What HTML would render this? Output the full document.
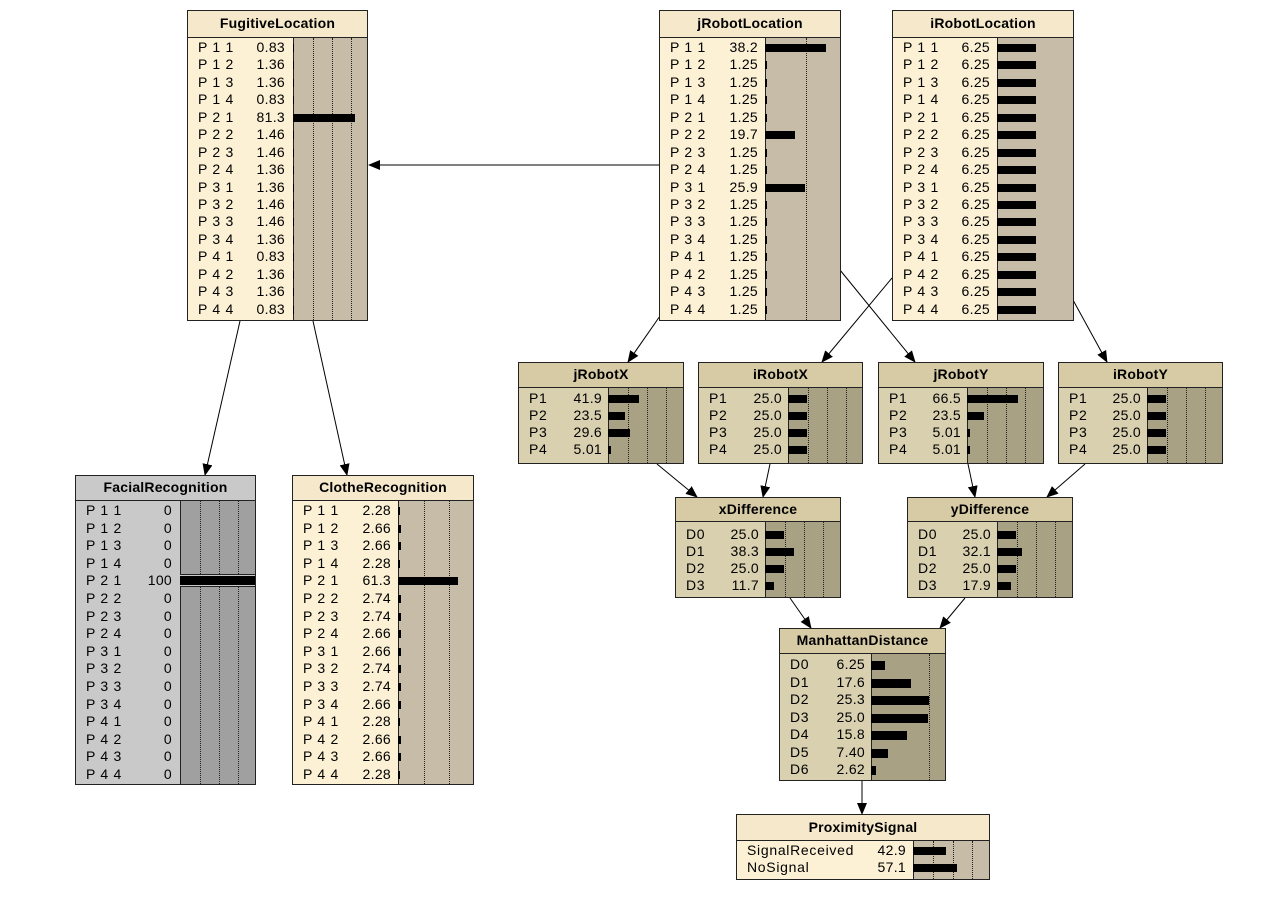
<!DOCTYPE html>
<html><head><meta charset="utf-8"><style>
body{margin:0;width:1283px;height:897px;background:#fff;position:relative;overflow:hidden;font-family:"Liberation Sans",Arial,sans-serif;font-size:14px;letter-spacing:0.7px;color:#000}
.n{position:absolute;border:1px solid #222;box-sizing:border-box;overflow:hidden}
.h{position:absolute;left:0;right:0;top:0;border-bottom:1px solid #222;text-align:center;font-weight:bold;font-size:14px;letter-spacing:0.2px;box-sizing:border-box}
.ba{position:absolute;bottom:0;right:0;border-left:1px solid #222}
.d{position:absolute;top:0;bottom:0;width:0;border-left:1px dotted #222}
.rs{position:absolute;left:0;right:0}
.r{position:relative}
.l{position:absolute;left:10px}
.v{position:absolute;text-align:right;letter-spacing:0.3px}
.b{position:absolute;background:#000;height:8px}
.c .h{background:#f6e9cb}.c{background:#fcf1d5}.c .ba{background:#c6bca7}
.m .h{background:#d7cba5}.m{background:#d9d0b0}.m .ba{background:#a9a183}
.g .h{background:#c9c9c9}.g{background:#c9c9c9}.g .ba{background:#a0a0a0}
</style></head><body>
<svg width="1283" height="897" style="position:absolute;left:0;top:0">
<defs><marker id="a" markerWidth="12" markerHeight="10" refX="11" refY="5" orient="auto" markerUnits="userSpaceOnUse"><path d="M0,0 L12,5 L0,10 z" fill="#000"/></marker></defs>
<g stroke="#000" stroke-width="1" marker-end="url(#a)">
<line x1="659" y1="165" x2="369" y2="165"/>
<line x1="240" y1="321" x2="205" y2="475"/>
<line x1="313" y1="321" x2="347" y2="475"/>
<line x1="660" y1="316" x2="628" y2="362"/>
<line x1="892" y1="278" x2="822" y2="362"/>
<line x1="840" y1="270" x2="915" y2="362"/>
<line x1="1073" y1="300" x2="1107" y2="362"/>
<line x1="657" y1="464" x2="697" y2="497"/>
<line x1="770" y1="464" x2="763" y2="497"/>
<line x1="968" y1="464" x2="975" y2="497"/>
<line x1="1085" y1="464" x2="1047" y2="497"/>
<line x1="790" y1="598" x2="811" y2="628"/>
<line x1="965" y1="598" x2="940" y2="628"/>
<line x1="862" y1="781" x2="862" y2="814"/>
</g></svg>

<!-- FugitiveLocation -->
<div class="n c" style="left:187px;top:10px;width:181px;height:311px">
<div class="h" style="height:27px;line-height:25px">FugitiveLocation</div>
<div class="ba" style="left:105px;top:27px"><i class="d" style="left:19px"></i><i class="d" style="left:38px"></i><i class="d" style="left:57px"></i></div>
<div class="rs" style="top:28px">
<div class="r" style="height:17.45px;line-height:17.45px"><span class="l">P 1 1</span><span class="v" style="right:82px">0.83</span><i class="b" style="left:105px;top:5px;width:1px"></i></div>
<div class="r" style="height:17.45px;line-height:17.45px"><span class="l">P 1 2</span><span class="v" style="right:82px">1.36</span><i class="b" style="left:105px;top:5px;width:1px"></i></div>
<div class="r" style="height:17.45px;line-height:17.45px"><span class="l">P 1 3</span><span class="v" style="right:82px">1.36</span><i class="b" style="left:105px;top:5px;width:1px"></i></div>
<div class="r" style="height:17.45px;line-height:17.45px"><span class="l">P 1 4</span><span class="v" style="right:82px">0.83</span><i class="b" style="left:105px;top:5px;width:1px"></i></div>
<div class="r" style="height:17.45px;line-height:17.45px"><span class="l">P 2 1</span><span class="v" style="right:82px">81.3</span><i class="b" style="left:105px;top:5px;width:62px"></i></div>
<div class="r" style="height:17.45px;line-height:17.45px"><span class="l">P 2 2</span><span class="v" style="right:82px">1.46</span><i class="b" style="left:105px;top:5px;width:1px"></i></div>
<div class="r" style="height:17.45px;line-height:17.45px"><span class="l">P 2 3</span><span class="v" style="right:82px">1.46</span><i class="b" style="left:105px;top:5px;width:1px"></i></div>
<div class="r" style="height:17.45px;line-height:17.45px"><span class="l">P 2 4</span><span class="v" style="right:82px">1.36</span><i class="b" style="left:105px;top:5px;width:1px"></i></div>
<div class="r" style="height:17.45px;line-height:17.45px"><span class="l">P 3 1</span><span class="v" style="right:82px">1.36</span><i class="b" style="left:105px;top:5px;width:1px"></i></div>
<div class="r" style="height:17.45px;line-height:17.45px"><span class="l">P 3 2</span><span class="v" style="right:82px">1.46</span><i class="b" style="left:105px;top:5px;width:1px"></i></div>
<div class="r" style="height:17.45px;line-height:17.45px"><span class="l">P 3 3</span><span class="v" style="right:82px">1.46</span><i class="b" style="left:105px;top:5px;width:1px"></i></div>
<div class="r" style="height:17.45px;line-height:17.45px"><span class="l">P 3 4</span><span class="v" style="right:82px">1.36</span><i class="b" style="left:105px;top:5px;width:1px"></i></div>
<div class="r" style="height:17.45px;line-height:17.45px"><span class="l">P 4 1</span><span class="v" style="right:82px">0.83</span><i class="b" style="left:105px;top:5px;width:1px"></i></div>
<div class="r" style="height:17.45px;line-height:17.45px"><span class="l">P 4 2</span><span class="v" style="right:82px">1.36</span><i class="b" style="left:105px;top:5px;width:1px"></i></div>
<div class="r" style="height:17.45px;line-height:17.45px"><span class="l">P 4 3</span><span class="v" style="right:82px">1.36</span><i class="b" style="left:105px;top:5px;width:1px"></i></div>
<div class="r" style="height:17.45px;line-height:17.45px"><span class="l">P 4 4</span><span class="v" style="right:82px">0.83</span><i class="b" style="left:105px;top:5px;width:1px"></i></div>
</div></div>

<!-- jRobotLocation -->
<div class="n c" style="left:659px;top:10px;width:182px;height:311px">
<div class="h" style="height:27px;line-height:25px">jRobotLocation</div>
<div class="ba" style="left:105px;top:27px"><i class="d" style="left:40px"></i></div>
<div class="rs" style="top:28px">
<div class="r" style="height:17.45px;line-height:17.45px"><span class="l">P 1 1</span><span class="v" style="right:82px">38.2</span><i class="b" style="left:105px;top:5px;width:61px"></i></div>
<div class="r" style="height:17.45px;line-height:17.45px"><span class="l">P 1 2</span><span class="v" style="right:82px">1.25</span><i class="b" style="left:105px;top:5px;width:2px"></i></div>
<div class="r" style="height:17.45px;line-height:17.45px"><span class="l">P 1 3</span><span class="v" style="right:82px">1.25</span><i class="b" style="left:105px;top:5px;width:2px"></i></div>
<div class="r" style="height:17.45px;line-height:17.45px"><span class="l">P 1 4</span><span class="v" style="right:82px">1.25</span><i class="b" style="left:105px;top:5px;width:2px"></i></div>
<div class="r" style="height:17.45px;line-height:17.45px"><span class="l">P 2 1</span><span class="v" style="right:82px">1.25</span><i class="b" style="left:105px;top:5px;width:2px"></i></div>
<div class="r" style="height:17.45px;line-height:17.45px"><span class="l">P 2 2</span><span class="v" style="right:82px">19.7</span><i class="b" style="left:105px;top:5px;width:30px"></i></div>
<div class="r" style="height:17.45px;line-height:17.45px"><span class="l">P 2 3</span><span class="v" style="right:82px">1.25</span><i class="b" style="left:105px;top:5px;width:2px"></i></div>
<div class="r" style="height:17.45px;line-height:17.45px"><span class="l">P 2 4</span><span class="v" style="right:82px">1.25</span><i class="b" style="left:105px;top:5px;width:2px"></i></div>
<div class="r" style="height:17.45px;line-height:17.45px"><span class="l">P 3 1</span><span class="v" style="right:82px">25.9</span><i class="b" style="left:105px;top:5px;width:40px"></i></div>
<div class="r" style="height:17.45px;line-height:17.45px"><span class="l">P 3 2</span><span class="v" style="right:82px">1.25</span><i class="b" style="left:105px;top:5px;width:2px"></i></div>
<div class="r" style="height:17.45px;line-height:17.45px"><span class="l">P 3 3</span><span class="v" style="right:82px">1.25</span><i class="b" style="left:105px;top:5px;width:2px"></i></div>
<div class="r" style="height:17.45px;line-height:17.45px"><span class="l">P 3 4</span><span class="v" style="right:82px">1.25</span><i class="b" style="left:105px;top:5px;width:2px"></i></div>
<div class="r" style="height:17.45px;line-height:17.45px"><span class="l">P 4 1</span><span class="v" style="right:82px">1.25</span><i class="b" style="left:105px;top:5px;width:2px"></i></div>
<div class="r" style="height:17.45px;line-height:17.45px"><span class="l">P 4 2</span><span class="v" style="right:82px">1.25</span><i class="b" style="left:105px;top:5px;width:2px"></i></div>
<div class="r" style="height:17.45px;line-height:17.45px"><span class="l">P 4 3</span><span class="v" style="right:82px">1.25</span><i class="b" style="left:105px;top:5px;width:2px"></i></div>
<div class="r" style="height:17.45px;line-height:17.45px"><span class="l">P 4 4</span><span class="v" style="right:82px">1.25</span><i class="b" style="left:105px;top:5px;width:2px"></i></div>
</div></div>

<!-- iRobotLocation -->
<div class="n c" style="left:892px;top:10px;width:182px;height:311px">
<div class="h" style="height:27px;line-height:25px">iRobotLocation</div>
<div class="ba" style="left:104px;top:27px"></div>
<div class="rs" style="top:28px">
<div class="r" style="height:17.45px;line-height:17.45px"><span class="l">P 1 1</span><span class="v" style="right:83px">6.25</span><i class="b" style="left:104px;top:5px;width:39px"></i></div>
<div class="r" style="height:17.45px;line-height:17.45px"><span class="l">P 1 2</span><span class="v" style="right:83px">6.25</span><i class="b" style="left:104px;top:5px;width:39px"></i></div>
<div class="r" style="height:17.45px;line-height:17.45px"><span class="l">P 1 3</span><span class="v" style="right:83px">6.25</span><i class="b" style="left:104px;top:5px;width:39px"></i></div>
<div class="r" style="height:17.45px;line-height:17.45px"><span class="l">P 1 4</span><span class="v" style="right:83px">6.25</span><i class="b" style="left:104px;top:5px;width:39px"></i></div>
<div class="r" style="height:17.45px;line-height:17.45px"><span class="l">P 2 1</span><span class="v" style="right:83px">6.25</span><i class="b" style="left:104px;top:5px;width:39px"></i></div>
<div class="r" style="height:17.45px;line-height:17.45px"><span class="l">P 2 2</span><span class="v" style="right:83px">6.25</span><i class="b" style="left:104px;top:5px;width:39px"></i></div>
<div class="r" style="height:17.45px;line-height:17.45px"><span class="l">P 2 3</span><span class="v" style="right:83px">6.25</span><i class="b" style="left:104px;top:5px;width:39px"></i></div>
<div class="r" style="height:17.45px;line-height:17.45px"><span class="l">P 2 4</span><span class="v" style="right:83px">6.25</span><i class="b" style="left:104px;top:5px;width:39px"></i></div>
<div class="r" style="height:17.45px;line-height:17.45px"><span class="l">P 3 1</span><span class="v" style="right:83px">6.25</span><i class="b" style="left:104px;top:5px;width:39px"></i></div>
<div class="r" style="height:17.45px;line-height:17.45px"><span class="l">P 3 2</span><span class="v" style="right:83px">6.25</span><i class="b" style="left:104px;top:5px;width:39px"></i></div>
<div class="r" style="height:17.45px;line-height:17.45px"><span class="l">P 3 3</span><span class="v" style="right:83px">6.25</span><i class="b" style="left:104px;top:5px;width:39px"></i></div>
<div class="r" style="height:17.45px;line-height:17.45px"><span class="l">P 3 4</span><span class="v" style="right:83px">6.25</span><i class="b" style="left:104px;top:5px;width:39px"></i></div>
<div class="r" style="height:17.45px;line-height:17.45px"><span class="l">P 4 1</span><span class="v" style="right:83px">6.25</span><i class="b" style="left:104px;top:5px;width:39px"></i></div>
<div class="r" style="height:17.45px;line-height:17.45px"><span class="l">P 4 2</span><span class="v" style="right:83px">6.25</span><i class="b" style="left:104px;top:5px;width:39px"></i></div>
<div class="r" style="height:17.45px;line-height:17.45px"><span class="l">P 4 3</span><span class="v" style="right:83px">6.25</span><i class="b" style="left:104px;top:5px;width:39px"></i></div>
<div class="r" style="height:17.45px;line-height:17.45px"><span class="l">P 4 4</span><span class="v" style="right:83px">6.25</span><i class="b" style="left:104px;top:5px;width:39px"></i></div>
</div></div>

<!-- jRobotX -->
<div class="n m" style="left:518px;top:362px;width:166px;height:102px">
<div class="h" style="height:25px;line-height:23px">jRobotX</div>
<div class="ba" style="left:89px;top:25px"><i class="d" style="left:19px"></i><i class="d" style="left:38px"></i><i class="d" style="left:57px"></i></div>
<div class="rs" style="top:27px">
<div class="r" style="height:17px;line-height:17px"><span class="l">P1</span><span class="v" style="right:81px">41.9</span><i class="b" style="left:89px;top:5px;width:31px"></i></div>
<div class="r" style="height:17px;line-height:17px"><span class="l">P2</span><span class="v" style="right:81px">23.5</span><i class="b" style="left:89px;top:5px;width:17px"></i></div>
<div class="r" style="height:17px;line-height:17px"><span class="l">P3</span><span class="v" style="right:81px">29.6</span><i class="b" style="left:89px;top:5px;width:22px"></i></div>
<div class="r" style="height:17px;line-height:17px"><span class="l">P4</span><span class="v" style="right:81px">5.01</span><i class="b" style="left:89px;top:5px;width:3px"></i></div>
</div></div>

<!-- iRobotX -->
<div class="n m" style="left:698px;top:362px;width:165px;height:102px">
<div class="h" style="height:25px;line-height:23px">iRobotX</div>
<div class="ba" style="left:89px;top:25px"><i class="d" style="left:19px"></i><i class="d" style="left:38px"></i><i class="d" style="left:57px"></i></div>
<div class="rs" style="top:27px">
<div class="r" style="height:17px;line-height:17px"><span class="l">P1</span><span class="v" style="right:80px">25.0</span><i class="b" style="left:89px;top:5px;width:19px"></i></div>
<div class="r" style="height:17px;line-height:17px"><span class="l">P2</span><span class="v" style="right:80px">25.0</span><i class="b" style="left:89px;top:5px;width:19px"></i></div>
<div class="r" style="height:17px;line-height:17px"><span class="l">P3</span><span class="v" style="right:80px">25.0</span><i class="b" style="left:89px;top:5px;width:19px"></i></div>
<div class="r" style="height:17px;line-height:17px"><span class="l">P4</span><span class="v" style="right:80px">25.0</span><i class="b" style="left:89px;top:5px;width:19px"></i></div>
</div></div>

<!-- jRobotY -->
<div class="n m" style="left:878px;top:362px;width:166px;height:102px">
<div class="h" style="height:25px;line-height:23px">jRobotY</div>
<div class="ba" style="left:88px;top:25px"><i class="d" style="left:19px"></i><i class="d" style="left:38px"></i><i class="d" style="left:57px"></i></div>
<div class="rs" style="top:27px">
<div class="r" style="height:17px;line-height:17px"><span class="l">P1</span><span class="v" style="right:82px">66.5</span><i class="b" style="left:88px;top:5px;width:51px"></i></div>
<div class="r" style="height:17px;line-height:17px"><span class="l">P2</span><span class="v" style="right:82px">23.5</span><i class="b" style="left:88px;top:5px;width:17px"></i></div>
<div class="r" style="height:17px;line-height:17px"><span class="l">P3</span><span class="v" style="right:82px">5.01</span><i class="b" style="left:88px;top:5px;width:3px"></i></div>
<div class="r" style="height:17px;line-height:17px"><span class="l">P4</span><span class="v" style="right:82px">5.01</span><i class="b" style="left:88px;top:5px;width:3px"></i></div>
</div></div>

<!-- iRobotY -->
<div class="n m" style="left:1058px;top:362px;width:165px;height:102px">
<div class="h" style="height:25px;line-height:23px">iRobotY</div>
<div class="ba" style="left:88px;top:25px"><i class="d" style="left:19px"></i><i class="d" style="left:38px"></i><i class="d" style="left:57px"></i></div>
<div class="rs" style="top:27px">
<div class="r" style="height:17px;line-height:17px"><span class="l">P1</span><span class="v" style="right:81px">25.0</span><i class="b" style="left:88px;top:5px;width:19px"></i></div>
<div class="r" style="height:17px;line-height:17px"><span class="l">P2</span><span class="v" style="right:81px">25.0</span><i class="b" style="left:88px;top:5px;width:19px"></i></div>
<div class="r" style="height:17px;line-height:17px"><span class="l">P3</span><span class="v" style="right:81px">25.0</span><i class="b" style="left:88px;top:5px;width:19px"></i></div>
<div class="r" style="height:17px;line-height:17px"><span class="l">P4</span><span class="v" style="right:81px">25.0</span><i class="b" style="left:88px;top:5px;width:19px"></i></div>
</div></div>

<!-- xDifference -->
<div class="n m" style="left:675px;top:497px;width:166px;height:101px">
<div class="h" style="height:24px;line-height:22px">xDifference</div>
<div class="ba" style="left:89px;top:24px"><i class="d" style="left:19px"></i><i class="d" style="left:38px"></i><i class="d" style="left:57px"></i></div>
<div class="rs" style="top:28px">
<div class="r" style="height:17px;line-height:17px"><span class="l">D0</span><span class="v" style="right:81px">25.0</span><i class="b" style="left:89px;top:5px;width:19px"></i></div>
<div class="r" style="height:17px;line-height:17px"><span class="l">D1</span><span class="v" style="right:81px">38.3</span><i class="b" style="left:89px;top:5px;width:29px"></i></div>
<div class="r" style="height:17px;line-height:17px"><span class="l">D2</span><span class="v" style="right:81px">25.0</span><i class="b" style="left:89px;top:5px;width:19px"></i></div>
<div class="r" style="height:17px;line-height:17px"><span class="l">D3</span><span class="v" style="right:81px">11.7</span><i class="b" style="left:89px;top:5px;width:9px"></i></div>
</div></div>

<!-- yDifference -->
<div class="n m" style="left:907px;top:497px;width:166px;height:101px">
<div class="h" style="height:24px;line-height:22px">yDifference</div>
<div class="ba" style="left:89px;top:24px"><i class="d" style="left:19px"></i><i class="d" style="left:38px"></i><i class="d" style="left:57px"></i></div>
<div class="rs" style="top:28px">
<div class="r" style="height:17px;line-height:17px"><span class="l">D0</span><span class="v" style="right:81px">25.0</span><i class="b" style="left:89px;top:5px;width:19px"></i></div>
<div class="r" style="height:17px;line-height:17px"><span class="l">D1</span><span class="v" style="right:81px">32.1</span><i class="b" style="left:89px;top:5px;width:25px"></i></div>
<div class="r" style="height:17px;line-height:17px"><span class="l">D2</span><span class="v" style="right:81px">25.0</span><i class="b" style="left:89px;top:5px;width:19px"></i></div>
<div class="r" style="height:17px;line-height:17px"><span class="l">D3</span><span class="v" style="right:81px">17.9</span><i class="b" style="left:89px;top:5px;width:14px"></i></div>
</div></div>

<!-- ManhattanDistance -->
<div class="n m" style="left:779px;top:628px;width:167px;height:153px">
<div class="h" style="height:25px;line-height:23px">ManhattanDistance</div>
<div class="ba" style="left:91px;top:25px"><i class="d" style="left:57px"></i></div>
<div class="rs" style="top:27px">
<div class="r" style="height:17.5px;line-height:17.5px"><span class="l">D0</span><span class="v" style="right:80px">6.25</span><i class="b" style="left:91px;top:5px;width:14px;height:9px"></i></div>
<div class="r" style="height:17.5px;line-height:17.5px"><span class="l">D1</span><span class="v" style="right:80px">17.6</span><i class="b" style="left:91px;top:5px;width:40px;height:9px"></i></div>
<div class="r" style="height:17.5px;line-height:17.5px"><span class="l">D2</span><span class="v" style="right:80px">25.3</span><i class="b" style="left:91px;top:5px;width:58px;height:9px"></i></div>
<div class="r" style="height:17.5px;line-height:17.5px"><span class="l">D3</span><span class="v" style="right:80px">25.0</span><i class="b" style="left:91px;top:5px;width:57px;height:9px"></i></div>
<div class="r" style="height:17.5px;line-height:17.5px"><span class="l">D4</span><span class="v" style="right:80px">15.8</span><i class="b" style="left:91px;top:5px;width:36px;height:9px"></i></div>
<div class="r" style="height:17.5px;line-height:17.5px"><span class="l">D5</span><span class="v" style="right:80px">7.40</span><i class="b" style="left:91px;top:5px;width:17px;height:9px"></i></div>
<div class="r" style="height:17.5px;line-height:17.5px"><span class="l">D6</span><span class="v" style="right:80px">2.62</span><i class="b" style="left:91px;top:5px;width:5px;height:9px"></i></div>
</div></div>

<!-- ProximitySignal -->
<div class="n c" style="left:736px;top:814px;width:254px;height:66px">
<div class="h" style="height:26px;line-height:24px">ProximitySignal</div>
<div class="ba" style="left:176px;top:26px"><i class="d" style="left:19px"></i><i class="d" style="left:39px"></i><i class="d" style="left:58px"></i></div>
<div class="rs" style="top:27px">
<div class="r" style="height:17px;line-height:17px"><span class="l">SignalReceived</span><span class="v" style="right:83px">42.9</span><i class="b" style="left:176px;top:5px;width:33px"></i></div>
<div class="r" style="height:17px;line-height:17px"><span class="l">NoSignal</span><span class="v" style="right:83px">57.1</span><i class="b" style="left:176px;top:5px;width:44px"></i></div>
</div></div>

<!-- FacialRecognition -->
<div class="n g" style="left:75px;top:475px;width:181px;height:310px">
<div class="h" style="height:25px;line-height:23px">FacialRecognition</div>
<div class="ba" style="left:104px;top:25px"><i class="d" style="left:19px"></i><i class="d" style="left:38px"></i><i class="d" style="left:57px"></i></div>
<div class="rs" style="top:26px">
<div class="r" style="height:17.6px;line-height:17.6px"><span class="l">P 1 1</span><span class="v" style="right:83px">0</span></div>
<div class="r" style="height:17.6px;line-height:17.6px"><span class="l">P 1 2</span><span class="v" style="right:83px">0</span></div>
<div class="r" style="height:17.6px;line-height:17.6px"><span class="l">P 1 3</span><span class="v" style="right:83px">0</span></div>
<div class="r" style="height:17.6px;line-height:17.6px"><span class="l">P 1 4</span><span class="v" style="right:83px">0</span></div>
<div class="r" style="height:17.6px;line-height:17.6px"><span class="l">P 2 1</span><span class="v" style="right:83px">100</span><i style="position:absolute;left:104px;right:0;top:2px;height:13px;background:#c9c9c9;border-top:1px solid #222;border-bottom:1px solid #222;box-sizing:border-box"></i><i class="b" style="left:104px;right:0;top:4px;height:9px"></i></div>
<div class="r" style="height:17.6px;line-height:17.6px"><span class="l">P 2 2</span><span class="v" style="right:83px">0</span></div>
<div class="r" style="height:17.6px;line-height:17.6px"><span class="l">P 2 3</span><span class="v" style="right:83px">0</span></div>
<div class="r" style="height:17.6px;line-height:17.6px"><span class="l">P 2 4</span><span class="v" style="right:83px">0</span></div>
<div class="r" style="height:17.6px;line-height:17.6px"><span class="l">P 3 1</span><span class="v" style="right:83px">0</span></div>
<div class="r" style="height:17.6px;line-height:17.6px"><span class="l">P 3 2</span><span class="v" style="right:83px">0</span></div>
<div class="r" style="height:17.6px;line-height:17.6px"><span class="l">P 3 3</span><span class="v" style="right:83px">0</span></div>
<div class="r" style="height:17.6px;line-height:17.6px"><span class="l">P 3 4</span><span class="v" style="right:83px">0</span></div>
<div class="r" style="height:17.6px;line-height:17.6px"><span class="l">P 4 1</span><span class="v" style="right:83px">0</span></div>
<div class="r" style="height:17.6px;line-height:17.6px"><span class="l">P 4 2</span><span class="v" style="right:83px">0</span></div>
<div class="r" style="height:17.6px;line-height:17.6px"><span class="l">P 4 3</span><span class="v" style="right:83px">0</span></div>
<div class="r" style="height:17.6px;line-height:17.6px"><span class="l">P 4 4</span><span class="v" style="right:83px">0</span></div>
</div></div>

<!-- ClotheRecognition -->
<div class="n c" style="left:292px;top:475px;width:182px;height:310px">
<div class="h" style="height:25px;line-height:23px">ClotheRecognition</div>
<div class="ba" style="left:105px;top:25px"><i class="d" style="left:25px"></i><i class="d" style="left:50px"></i></div>
<div class="rs" style="top:26px">
<div class="r" style="height:17.6px;line-height:17.6px"><span class="l">P 1 1</span><span class="v" style="right:82px">2.28</span><i class="b" style="left:105px;top:5px;width:2px"></i></div>
<div class="r" style="height:17.6px;line-height:17.6px"><span class="l">P 1 2</span><span class="v" style="right:82px">2.66</span><i class="b" style="left:105px;top:5px;width:3px"></i></div>
<div class="r" style="height:17.6px;line-height:17.6px"><span class="l">P 1 3</span><span class="v" style="right:82px">2.66</span><i class="b" style="left:105px;top:5px;width:3px"></i></div>
<div class="r" style="height:17.6px;line-height:17.6px"><span class="l">P 1 4</span><span class="v" style="right:82px">2.28</span><i class="b" style="left:105px;top:5px;width:2px"></i></div>
<div class="r" style="height:17.6px;line-height:17.6px"><span class="l">P 2 1</span><span class="v" style="right:82px">61.3</span><i class="b" style="left:105px;top:5px;width:60px"></i></div>
<div class="r" style="height:17.6px;line-height:17.6px"><span class="l">P 2 2</span><span class="v" style="right:82px">2.74</span><i class="b" style="left:105px;top:5px;width:3px"></i></div>
<div class="r" style="height:17.6px;line-height:17.6px"><span class="l">P 2 3</span><span class="v" style="right:82px">2.74</span><i class="b" style="left:105px;top:5px;width:3px"></i></div>
<div class="r" style="height:17.6px;line-height:17.6px"><span class="l">P 2 4</span><span class="v" style="right:82px">2.66</span><i class="b" style="left:105px;top:5px;width:3px"></i></div>
<div class="r" style="height:17.6px;line-height:17.6px"><span class="l">P 3 1</span><span class="v" style="right:82px">2.66</span><i class="b" style="left:105px;top:5px;width:3px"></i></div>
<div class="r" style="height:17.6px;line-height:17.6px"><span class="l">P 3 2</span><span class="v" style="right:82px">2.74</span><i class="b" style="left:105px;top:5px;width:3px"></i></div>
<div class="r" style="height:17.6px;line-height:17.6px"><span class="l">P 3 3</span><span class="v" style="right:82px">2.74</span><i class="b" style="left:105px;top:5px;width:3px"></i></div>
<div class="r" style="height:17.6px;line-height:17.6px"><span class="l">P 3 4</span><span class="v" style="right:82px">2.66</span><i class="b" style="left:105px;top:5px;width:3px"></i></div>
<div class="r" style="height:17.6px;line-height:17.6px"><span class="l">P 4 1</span><span class="v" style="right:82px">2.28</span><i class="b" style="left:105px;top:5px;width:2px"></i></div>
<div class="r" style="height:17.6px;line-height:17.6px"><span class="l">P 4 2</span><span class="v" style="right:82px">2.66</span><i class="b" style="left:105px;top:5px;width:3px"></i></div>
<div class="r" style="height:17.6px;line-height:17.6px"><span class="l">P 4 3</span><span class="v" style="right:82px">2.66</span><i class="b" style="left:105px;top:5px;width:3px"></i></div>
<div class="r" style="height:17.6px;line-height:17.6px"><span class="l">P 4 4</span><span class="v" style="right:82px">2.28</span><i class="b" style="left:105px;top:5px;width:2px"></i></div>
</div></div>
</body></html>
